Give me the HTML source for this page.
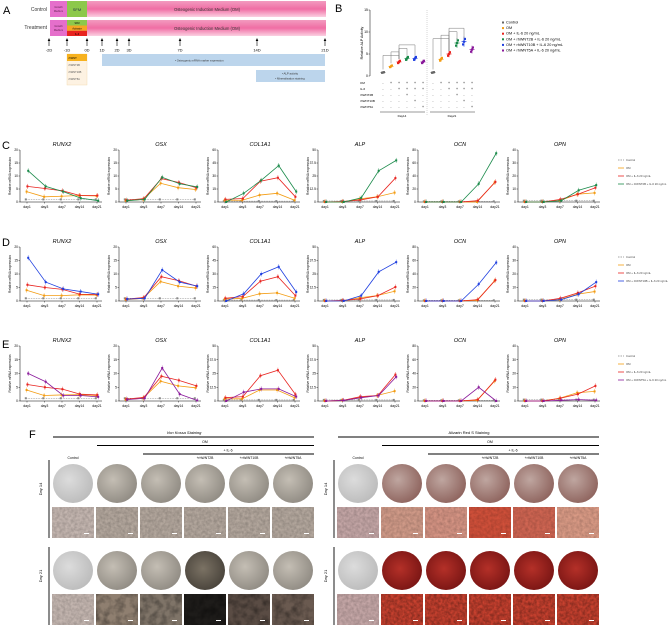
<!DOCTYPE html>
<html><head><meta charset="utf-8"><style>
html,body{margin:0;padding:0;background:#fff;}
svg{display:block;font-family:"Liberation Sans",sans-serif;}
</style></head><body>
<svg id="fig" width="670" height="628" viewBox="0 0 670 628" xmlns="http://www.w3.org/2000/svg">
<defs>
<linearGradient id="pinkg" x1="0" y1="0" x2="0" y2="1"><stop offset="0" stop-color="#f29bbf"/><stop offset="0.5" stop-color="#f06ea4"/><stop offset="1" stop-color="#fbd0e2"/></linearGradient>
<radialGradient id="dishA" cx="0.4" cy="0.4" r="0.7"><stop offset="0" stop-color="#dcdcdc"/><stop offset="1" stop-color="#b9b9b9"/></radialGradient>
<radialGradient id="dishB" cx="0.4" cy="0.4" r="0.7"><stop offset="0" stop-color="#c4beb4"/><stop offset="1" stop-color="#8c877f"/></radialGradient>
<radialGradient id="dishC" cx="0.45" cy="0.45" r="0.7"><stop offset="0" stop-color="#7b7264"/><stop offset="1" stop-color="#3f3a33"/></radialGradient>
<radialGradient id="dishR1" cx="0.4" cy="0.4" r="0.7"><stop offset="0" stop-color="#bfa6a0"/><stop offset="1" stop-color="#8a5e58"/></radialGradient>
<radialGradient id="dishR2" cx="0.45" cy="0.45" r="0.7"><stop offset="0" stop-color="#b43028"/><stop offset="1" stop-color="#6e1010"/></radialGradient>
<filter id="noise" x="0" y="0" width="100%" height="100%"><feTurbulence type="fractalNoise" baseFrequency="0.35" numOctaves="2" seed="3"/><feColorMatrix type="matrix" values="0 0 0 0 0  0 0 0 0 0  0 0 0 0 0  0 0 0 -1.6 1.2"/></filter>
<filter id="noise2" x="0" y="0" width="100%" height="100%"><feTurbulence type="fractalNoise" baseFrequency="0.12" numOctaves="3" seed="7"/><feColorMatrix type="matrix" values="0 0 0 0 0  0 0 0 0 0  0 0 0 0 0  0 0 0 -2.2 1.4"/></filter>
</defs>

<!-- PANEL A -->
<g>
<text x="3" y="14" font-size="11">A</text>
<text x="47" y="11" font-size="5" text-anchor="end" fill="#333">Control</text>
<text x="47" y="29" font-size="5" text-anchor="end" fill="#333">Treatment</text>
<rect x="50" y="1" width="276" height="16" fill="url(#pinkg)"/>
<rect x="50" y="20" width="276" height="16" fill="url(#pinkg)"/>
<rect x="50" y="1" width="17" height="16" fill="#e56fcb"/>
<rect x="50" y="20" width="17" height="16" fill="#e56fcb"/>
<text x="58.5" y="8" font-size="2.6" text-anchor="middle" fill="#602050">Growth</text><text x="58.5" y="12" font-size="2.6" text-anchor="middle" fill="#602050">Medium</text>
<text x="58.5" y="27" font-size="2.6" text-anchor="middle" fill="#602050">Growth</text><text x="58.5" y="31" font-size="2.6" text-anchor="middle" fill="#602050">Medium</text>
<rect x="67" y="1" width="20" height="16" fill="#8cc84b"/>
<text x="77" y="11" font-size="4" text-anchor="middle" fill="#234">SFM</text>
<rect x="67" y="20" width="20" height="5.5" fill="#8cc84b"/><rect x="67" y="25.5" width="20" height="5.3" fill="#f5a623"/><rect x="67" y="30.8" width="20" height="5.2" fill="#e8231f"/>
<text x="77" y="24" font-size="2.4" text-anchor="middle">SFM</text><text x="77" y="29.5" font-size="2.4" text-anchor="middle">Activator</text><text x="77" y="35" font-size="2.4" text-anchor="middle">IL-6</text>
<text x="207" y="11" font-size="4.2" text-anchor="middle" fill="#333">Osteogenic Induction Medium (OM)</text>
<text x="207" y="30" font-size="4.2" text-anchor="middle" fill="#333">Osteogenic Induction Medium (OM)</text>
<g id="arrows"></g>
<rect x="102" y="54" width="223" height="12" fill="#bcd5ec"/>
<text x="175" y="61.5" font-size="2.8" fill="#333">•  Osteogenic mRNA marker expression</text>
<rect x="256" y="70" width="69" height="12" fill="#bcd5ec"/>
<text x="290" y="74.5" font-size="2.8" text-anchor="middle" fill="#333">•  ALP activity</text>
<text x="290" y="79.5" font-size="2.8" text-anchor="middle" fill="#333">•  Mineralization staining</text>
<rect x="67" y="54" width="20" height="31" fill="#fdf2e2" stroke="#f3d7a6" stroke-width="0.4"/>
<rect x="67" y="54" width="20" height="7" fill="#f7b21f"/>
<text x="68.5" y="59" font-size="2.6">rhWNT:</text><text x="68.5" y="66" font-size="2.6" fill="#555">rhWNT2B</text><text x="68.5" y="73" font-size="2.6" fill="#555">rhWNT10B</text><text x="68.5" y="80" font-size="2.6" fill="#555">rhWNT5A</text>
</g>

<!-- PANEL B -->
<g id="panelB">
<text x="335" y="12" font-size="11">B</text>
</g>

<g id="lines">
<text x="2" y="149" font-size="11">C</text>
<text x="2" y="246" font-size="11">D</text>
<text x="2" y="348" font-size="11">E</text>
</g>

<!-- PANEL F -->
<g id="panelF">
<text x="29" y="438" font-size="11">F</text>
</g>
</svg>
<script>
// ---------- Panel B data ----------
const bGroups = ["Control","OM","OM + IL-6 20 ng/mL","OM + rhWNT2B + IL-6 20 ng/mL","OM + rhWNT10B + IL-6 20 ng/mL","OM + rhWNT5A + IL-6 20 ng/mL"];
const bColors = ["#666666","#f39c12","#e8231f","#1a8a4a","#1f3fe0","#8a1a9b"];
const bDay14 = [0.8,2.2,3.2,4.0,4.0,3.2];
const bDay21 = [0.8,3.8,5.0,7.5,7.8,6.0];
const bTicks = [0,5,10,15];

// ---------- Line chart data ----------
const days = ["day1","day3","day7","day14","day21"];
const genes = ["RUNX2","OSX","COL1A1","ALP","OCN","OPN"];
const controlLevel = [1,1,1,1,1];
const yMaxC = [20,20,60,50,80,40];
const yMaxD = [20,20,60,50,80,40];
const yMaxE = [20,20,50,50,80,40];
// Row C (rhWNT2B, green)
const omC  = [[4,2,2.2,2.5,2.3],[0.5,1,7.2,5.5,4.8],[2,2,8,10,2],[0,0,3,5,9],[0,0,0,0,30],[0,0,1,6,7]];
const il6C = [[6,5.2,4.3,2.5,2.5],[0.7,1.3,9,7.5,5.5],[3,4,24,28,6],[0,0.5,2,5,23],[0,0,0,2,31],[0,0,2,6,11]];
const trtC = [[12,6,4,1.5,0.5],[0.5,1,9.5,7,5.8],[0,10,25,42,12],[0,0,4,30,40],[0,0,0,28,75],[0,0,1,9,13]];
// Row D (rhWNT10B, blue)
const omD  = [[4,2,2,2.3,2.2],[0.5,1,7.2,5.5,4.8],[2,3,8,9,3],[0,0,3,5,9],[0,0,0,1,30],[0,0,1,5,7]];
const il6D = [[6,5,4.3,2.5,2.4],[0.7,1.3,9,7.5,5.5],[3,5,22,27,6],[0,0.5,2,5,13],[0,0,0,2,31],[0,0,2,6,11]];
const trtD = [[16,7,4.5,3.5,2.5],[0.7,1,11.5,7,5.5],[0,8,30,38,10],[0,0,5,27,36],[0,0,0,25,57],[0,0,1,5,14]];
// Row E (rhWNT5A, purple)
const omE  = [[4,2,2.2,2.3,2],[0.5,1,7.2,5.5,4.8],[2,2,10,10,3],[0,0.5,3,5,9],[0,0,0,1,29],[0,0,2,6,7]];
const il6E = [[6,5,4.3,2.5,2.2],[0.7,1.3,9,7.5,5.5],[3,4,23,28,6],[0,0.5,4,5,24],[0,0,0,2,31],[0,0,2,5,11]];
const trtE = [[10,7,2,2,1.5],[0.5,1,12,2.5,0.2],[0,8,11,11,4],[0,0.5,3,5,22],[0,0,0,20,0],[0,0,0.5,1,0.5]];

const NS="http://www.w3.org/2000/svg";
function mk(parent,tag,attrs,text){const e=document.createElementNS(NS,tag);for(const k in attrs)e.setAttribute(k,attrs[k]);if(text!==undefined)e.textContent=text;parent.appendChild(e);return e;}

// Panel A arrows
const arrowLabels=["-2D","-1D","0D","1D","2D","3D","7D","14D","21D"];
const arrowX=[49,67,87,102,117,129,180,257,325];
const ar=document.getElementById('arrows');
arrowLabels.forEach((l,i)=>{
  const g=mk(ar,'g',{});
  
  
  mk(g,'line',{x1:arrowX[i],y1:46,x2:arrowX[i],y2:40,stroke:'#000','stroke-width':0.6});
  mk(g,'path',{d:`M${arrowX[i]-1.3},41 L${arrowX[i]},38 L${arrowX[i]+1.3},41Z`,fill:'#000'});
  mk(g,'text',{x:arrowX[i],y:51.5,'font-size':4,'text-anchor':'middle'},l);
});

// Panel B
(function(){
  const B=document.getElementById('panelB');
  const x0=370,x1=476,yb=76,yt=10,ymax=15;
  const y=v=>yb-(v/ymax)*(yb-yt);
  mk(B,'line',{x1:x0,y1:yt,x2:x0,y2:yb,stroke:'#000','stroke-width':0.5});
  bTicks.forEach(t=>{mk(B,'line',{x1:x0-1.5,y1:y(t),x2:x0,y2:y(t),stroke:'#000','stroke-width':0.4});mk(B,'text',{x:x0-2,y:y(t)+1.2,'font-size':3.5,'text-anchor':'end'},t);});
  const yt_=mk(B,'text',{x:0,y:0,'font-size':3.6,'text-anchor':'middle',transform:`translate(${x0-7},${(yt+yb)/2}) rotate(-90)`},'Relative ALP Activity');
  
  
  mk(B,'line',{x1:427,y1:yt,x2:427,y2:yb+40,stroke:'#999','stroke-width':0.4,'stroke-dasharray':'1,1'});
  const xs14=[383,391,399,407,415,423], xs21=[433,441,449,457,464,472];
  [[bDay14,xs14],[bDay21,xs21]].forEach(([vals,xs],gi)=>{
    vals.forEach((v,i)=>{
      const g=mk(B,'g',{});
      
      
      const c=bColors[i];
      mk(g,'line',{x1:xs[i],y1:y(v*1.15),x2:xs[i],y2:y(v*0.85),stroke:c,'stroke-width':0.5});
      mk(g,'line',{x1:xs[i]-2.5,y1:y(v),x2:xs[i]+2.5,y2:y(v),stroke:c,'stroke-width':0.7});
      [-1.5,0,1.5].forEach((d,k)=>mk(g,'rect',{x:xs[i]-1.1+d*0.6,y:y(v*(0.92+k*0.08))-1.1,width:2.2,height:2.2,fill:c}));
    });
    [[0,2,5],[1,2,3],[2,3,1],[2,4,0]].forEach(([a,b2,lv],k)=>{
      const top=y(Math.max(...vals))-3-k*3.5;
      const p=`M${xs[a]},${y(vals[a])-3} V${top} H${xs[b2]} V${y(vals[b2])-3}`;
      mk(B,'path',{d:p,fill:'none',stroke:'#777','stroke-width':0.5});
    });
  });
  const rows=["OM","IL-6","rhWNT2B","rhWNT10B","rhWNT5A"];
  const sign14=[["-","+","+","+","+","+"],["-","-","+","+","+","+"],["-","-","-","+","-","-"],["-","-","-","-","+","-"],["-","-","-","-","-","+"]];
  rows.forEach((r,ri)=>{
    const yy=84+ri*6;
    mk(B,'text',{x:360,y:yy,'font-size':3,'text-anchor':'start'},r);
    sign14[ri].forEach((s,i)=>{mk(B,'text',{x:xs14[i],y:yy,'font-size':3.5,'text-anchor':'middle'},s);mk(B,'text',{x:xs21[i],y:yy,'font-size':3.5,'text-anchor':'middle'},s);});
  });
  mk(B,'line',{x1:380,y1:112,x2:425,y2:112,stroke:'#000','stroke-width':0.4});
  mk(B,'line',{x1:430,y1:112,x2:475,y2:112,stroke:'#000','stroke-width':0.4});
  mk(B,'text',{x:402,y:117,'font-size':3,'text-anchor':'middle'},'Day14');
  mk(B,'text',{x:452,y:117,'font-size':3,'text-anchor':'middle'},'Day21');
  bGroups.forEach((gname,i)=>{
    const g=mk(B,'g',{});
    
    
    mk(g,'rect',{x:502,y:21.5+i*5.6,width:2,height:2,fill:bColors[i]});
    mk(g,'text',{x:506,y:23.5+i*5.6,'font-size':3.8},gname);
  });
})();

// Panels C/D/E
(function(){
  const L=document.getElementById('lines');
  const axisX=[20,119,218,318,418,518];
  const rowsCfg=[
    {top:150,bot:202,tmax:yMaxC,om:omC,il6:il6C,trt:trtC,col:"#1a8a4a",name:"OM + rhWNT2B + IL-6 20 ng/mL",id:'c'},
    {top:247,bot:301,tmax:yMaxD,om:omD,il6:il6D,trt:trtD,col:"#1f3fe0",name:"OM + rhWNT10B + IL-6 20 ng/mL",id:'d'},
    {top:346,bot:401,tmax:yMaxE,om:omE,il6:il6E,trt:trtE,col:"#8a1a9b",name:"OM + rhWNT5A + IL-6 20 ng/mL",id:'e'}];
  rowsCfg.forEach(R=>{
    genes.forEach((gname,gi)=>{
      const ax=axisX[gi], ymax=R.tmax[gi];
      const g=mk(L,'g',{});
      
      
      const y=v=>R.bot-(v/ymax)*(R.bot-R.top);
      const x=i=>ax+7+i*17.5;
      mk(g,'text',{x:ax+42,y:R.top-4,'font-size':5.5,'font-style':'italic','text-anchor':'middle'},gname);
      mk(g,'line',{x1:ax,y1:R.top,x2:ax,y2:R.bot,stroke:'#000','stroke-width':0.5});
      mk(g,'line',{x1:ax,y1:R.bot,x2:ax+82,y2:R.bot,stroke:'#000','stroke-width':0.5});
      for(let k=0;k<=4;k++){const v=ymax*k/4;mk(g,'line',{x1:ax-1.5,y1:y(v),x2:ax,y2:y(v),stroke:'#000','stroke-width':0.4});mk(g,'text',{x:ax-2,y:y(v)+1.2,'font-size':3.3,'text-anchor':'end'},v);}
      mk(g,'text',{x:0,y:0,'font-size':3.2,'text-anchor':'middle',transform:`translate(${ax-9},${(R.top+R.bot)/2}) rotate(-90)`},'Relative mRNA expression');
      days.forEach((d,i)=>{mk(g,'line',{x1:x(i),y1:R.bot,x2:x(i),y2:R.bot+1.5,stroke:'#000','stroke-width':0.4});mk(g,'text',{x:x(i),y:R.bot+6,'font-size':3.5,'text-anchor':'middle'},d);});
      const series=[[controlLevel,'#888',true],[R.om[gi],'#f39c12'],[R.il6[gi],'#e8231f'],[R.trt[gi],R.col]];
      series.forEach(([vals,c,dash],si)=>{
        const pts=vals.map((v,i)=>`${x(i)+(si-1.5)*0.8},${y(v)}`).join(' ');
        const pl=mk(g,'polyline',{points:pts,fill:'none',stroke:c,'stroke-width':dash?0.5:0.8});
        if(dash)pl.setAttribute('stroke-dasharray','1.5,1');
        
        
        vals.forEach((v,i)=>{
          if(!dash){mk(g,'line',{x1:x(i)+(si-1.5)*0.8,y1:y(v)-2.5,x2:x(i)+(si-1.5)*0.8,y2:Math.min(R.bot,y(v)+2.5),stroke:c,'stroke-width':0.4});}
          mk(g,'rect',{x:x(i)+(si-1.5)*0.8-1,y:y(v)-1,width:2,height:2,fill:c});
        });
      });
    });
    const names=["Control","OM","OM + IL-6 20 ng/mL",R.name];
    const cols=['#888','#f39c12','#e8231f',R.col];
    names.forEach((n,i)=>{
      const lg=mk(L,'g',{});
      
      
      const yy=R.top+10+i*8;
      mk(lg,'line',{x1:618,y1:yy,x2:624,y2:yy,stroke:cols[i],'stroke-width':0.8,'stroke-dasharray':i?'none':'1.5,1'});
      mk(lg,'text',{x:626,y:yy+1,'font-size':2.8,fill:'#444'},n);
    });
  });
})();

// Panel F
(function(){
  const F=document.getElementById('panelF');
  const cols=["Control","","","+rhWNT2B","+rhWNT10B","+rhWNT5A"];
  [[0,'Von Kossa Staining'],[285,'Alizarin Red S Staining']].forEach(([off,title],si)=>{
    mk(F,'text',{x:184+off,y:434,'font-size':4,'text-anchor':'middle','font-style':si?'normal':'italic'},title);
    mk(F,'line',{x1:53+off,y1:437,x2:314+off,y2:437,stroke:'#000','stroke-width':0.9});
    mk(F,'text',{x:205+off,y:443,'font-size':3.5,'text-anchor':'middle'},'OM');
    mk(F,'line',{x1:97+off,y1:445.5,x2:314+off,y2:445.5,stroke:'#000','stroke-width':0.9});
    mk(F,'text',{x:228+off,y:451.5,'font-size':3.5,'text-anchor':'middle'},'+ IL-6');
    mk(F,'line',{x1:143+off,y1:454,x2:314+off,y2:454,stroke:'#000','stroke-width':0.9});
    cols.forEach((c,i)=>{const cx=73+i*44+off; if(c) mk(F,'text',{x:cx,y:459,'font-size':3.4,'text-anchor':'middle'},c);});
    [[460,538,'Day 14'],[547,625,'Day 21']].forEach(([a,b,lab],ri)=>{
      mk(F,'line',{x1:49+off,y1:a,x2:49+off,y2:b,stroke:'#000','stroke-width':0.9});
      mk(F,'text',{x:0,y:0,'font-size':4,'text-anchor':'middle',transform:`translate(${42+off},${(a+b)/2-10}) rotate(-90)`},lab);
      const dy=ri?551:464, my=ri?594:507;
      cols.forEach((c,i)=>{
        const cx=73+i*44+off;
        let dishFill, microFill;
        if(!si){
          dishFill = i===0?'url(#dishA)': (ri&&i===3)?'url(#dishC)':'url(#dishB)';
          microFill = i===0?'#c4b6b0':(ri? ['#c4b6b0','#8f7f70','#7f7468','#1e1c1a','#5a4c44','#6a5a50'][i]:'#b3a79d');
        }else{
          dishFill = i===0?'url(#dishA)':(ri?'url(#dishR2)':'url(#dishR1)');
          microFill = i===0?'#c4a6a6':(ri?'#c8412f':['#c4a6a6','#d09a88','#d49383','#d0503a','#cf6552','#d99a85'][i]);
        }
        const d=mk(F,'ellipse',{cx:cx,cy:dy+19.5,rx:20,ry:19.5,fill:dishFill});
        
        
        const m=mk(F,'rect',{x:cx-21,y:my,width:42,height:31,fill:microFill});
        
        
        mk(F,'rect',{x:cx-21,y:my,width:42,height:31,filter:(ri&&!si&&i>0)?'url(#noise2)':'url(#noise)',opacity:(ri&&i>0)?0.35:0.18});
        mk(F,'rect',{x:cx+11,y:my+26,width:5,height:1,fill:'#fff'});
      });
    });
  });
})();
</script>
</body></html>
